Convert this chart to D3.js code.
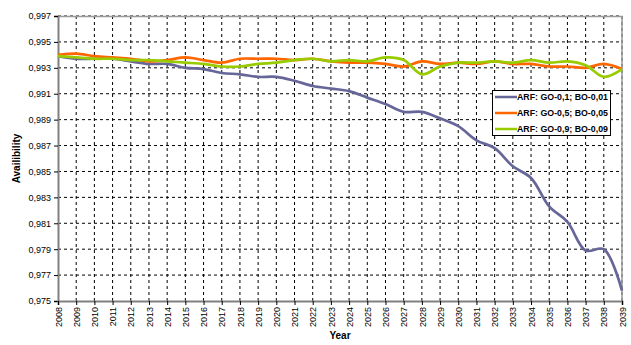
<!DOCTYPE html>
<html>
<head>
<meta charset="utf-8">
<script src="https://cdn.jsdelivr.net/npm/d3@7"></script>
<style>
  body { margin: 0; background: #fff; }
  text { font-family: "Liberation Sans", Arial, sans-serif; }
</style>
</head>
<body>
<svg id="chart" width="631" height="345"></svg>
<script>
var years = d3.range(2008, 2040);
var yTicks = [0.975, 0.977, 0.979, 0.981, 0.983, 0.985, 0.987, 0.989, 0.991, 0.993, 0.995, 0.997];

var go01 = [0.9939, 0.9937, 0.9937, 0.9937, 0.9935, 0.9933, 0.9933, 0.9930, 0.9929, 0.9926, 0.9925,
  0.9923, 0.9923, 0.9920, 0.9916, 0.9914, 0.9912, 0.9907, 0.9902, 0.9896, 0.9896,
  0.9891, 0.9885, 0.9874, 0.9868, 0.9854, 0.9845, 0.9823, 0.9811, 0.9789, 0.9790, 0.9758];
var go05 = [0.9940, 0.9941, 0.9939, 0.9938, 0.9937, 0.9935, 0.9936, 0.9938, 0.9936, 0.9934, 0.9937,
  0.9937, 0.9937, 0.9936, 0.9937, 0.9935, 0.9934, 0.9934, 0.9933, 0.9931, 0.9935,
  0.9933, 0.9934, 0.9933, 0.9935, 0.9933, 0.9933, 0.9931, 0.9931, 0.9930, 0.9933, 0.9929];
var go09 = [0.9939, 0.9938, 0.9937, 0.9937, 0.9936, 0.9936, 0.9935, 0.9934, 0.9933, 0.9931, 0.9931,
  0.9933, 0.9934, 0.9936, 0.9937, 0.9935, 0.9936, 0.9935, 0.9938, 0.9936, 0.9925,
  0.9931, 0.9934, 0.9934, 0.9935, 0.9934, 0.9936, 0.9934, 0.9935, 0.9932, 0.9923, 0.9929];

var seriesNames = ["ARF: GO-0,1; BO-0,01", "ARF: GO-0,5; BO-0,05", "ARF: GO-0,9; BO-0,09"];
var seriesColors = ["#666699", "#ff6600", "#99cc00"];
var seriesValues = [go01, go05, go09];

var svg = d3.select("#chart"),
  margin = { top: 16, right: 9, bottom: 44, left: 58 },
  width = +svg.attr("width") - margin.left - margin.right,
  height = +svg.attr("height") - margin.top - margin.bottom,
  g = svg.append("g").attr("transform", "translate(" + margin.left + "," + margin.top + ")");

var x = d3.scaleLinear().domain([2008, 2039]).range([0, width]);
var y = d3.scaleLinear().domain([0.975, 0.997]).range([height, 0]);

var fmt = d => d3.format(".3f")(d).replace(".", ",");

// grid
g.append("g")
  .selectAll("line.h")
  .data(yTicks.slice(1))
  .enter().append("line")
    .attr("x1", 0).attr("x2", width)
    .attr("y1", d => y(d)).attr("y2", d => y(d))
    .attr("stroke", "#000")
    .attr("stroke-width", 1)
    .attr("stroke-dasharray", "3,3");

g.append("g")
  .selectAll("line.v")
  .data(years.slice(1))
  .enter().append("line")
    .attr("x1", d => x(d)).attr("x2", d => x(d))
    .attr("y1", 0).attr("y2", height)
    .attr("stroke", "#000")
    .attr("stroke-width", 1)
    .attr("stroke-dasharray", "3,3");

// plot border (top, right)
g.append("path")
  .attr("d", "M0,0.5H" + width + "V" + height)
  .attr("fill", "none")
  .attr("stroke", "#999")
  .attr("stroke-width", 1.5);

// axes
var yAxis = g.append("g")
  .call(d3.axisLeft(y).tickValues(yTicks).tickFormat(fmt).tickSize(4).tickPadding(3));
var xAxis = g.append("g")
  .attr("transform", `translate(0,${height})`)
  .call(d3.axisBottom(x).tickValues(years).tickFormat(d3.format("d")).tickSize(4));

[yAxis, xAxis].forEach(a => {
  a.select(".domain").attr("stroke", "#808080").attr("stroke-width", 2);
  a.selectAll(".tick line").attr("stroke", "#000");
  a.selectAll("text").attr("font-size", 9).attr("fill", "#000")
    .style("font-family", "'Liberation Sans', Arial, sans-serif");
});

xAxis.selectAll("text")
  .attr("transform", "rotate(-90)")
  .attr("text-anchor", "end")
  .attr("x", -6)
  .attr("y", 0)
  .attr("dy", "0.35em");

// lines
var line = d3.line()
  .x((d, i) => x(years[i]))
  .y(d => y(d))
  .curve(d3.curveCatmullRom.alpha(0.5));

seriesValues.forEach((vals, i) => {
  g.append("path")
    .attr("fill", "none")
    .attr("stroke", seriesColors[i])
    .attr("stroke-width", 2.7)
    .attr("stroke-linejoin", "round")
    .attr("d", line(vals));
});

// axis titles
svg.append("text")
  .attr("x", margin.left + width / 2)
  .attr("y", 339)
  .attr("text-anchor", "middle")
  .attr("font-size", 10)
  .attr("font-weight", "bold")
  .text("Year");

svg.append("text")
  .attr("transform", "translate(20," + (margin.top + height / 2) + ") rotate(-90)")
  .attr("text-anchor", "middle")
  .attr("font-size", 10)
  .attr("font-weight", "bold")
  .text("Availibility");

// legend
var legend = svg.append("g").attr("transform", "translate(492,90)");
legend.append("rect")
  .attr("x", 0.5).attr("y", 0.5)
  .attr("width", 118).attr("height", 45)
  .attr("fill", "#fff")
  .attr("stroke", "#000");

seriesNames.forEach((name, i) => {
  var row = legend.append("g").attr("transform", `translate(0,${7 + i * 16})`);
  row.append("line")
    .attr("x1", 3).attr("x2", 25)
    .attr("y1", 0).attr("y2", 0)
    .attr("stroke", seriesColors[i])
    .attr("stroke-width", 2.5);
  row.append("text")
    .attr("x", 25)
    .attr("y", 0)
    .attr("dy", "0.35em")
    .attr("font-size", 8.8)
    .attr("font-weight", "bold")
    .text(name);
});
</script>
</body>
</html>
